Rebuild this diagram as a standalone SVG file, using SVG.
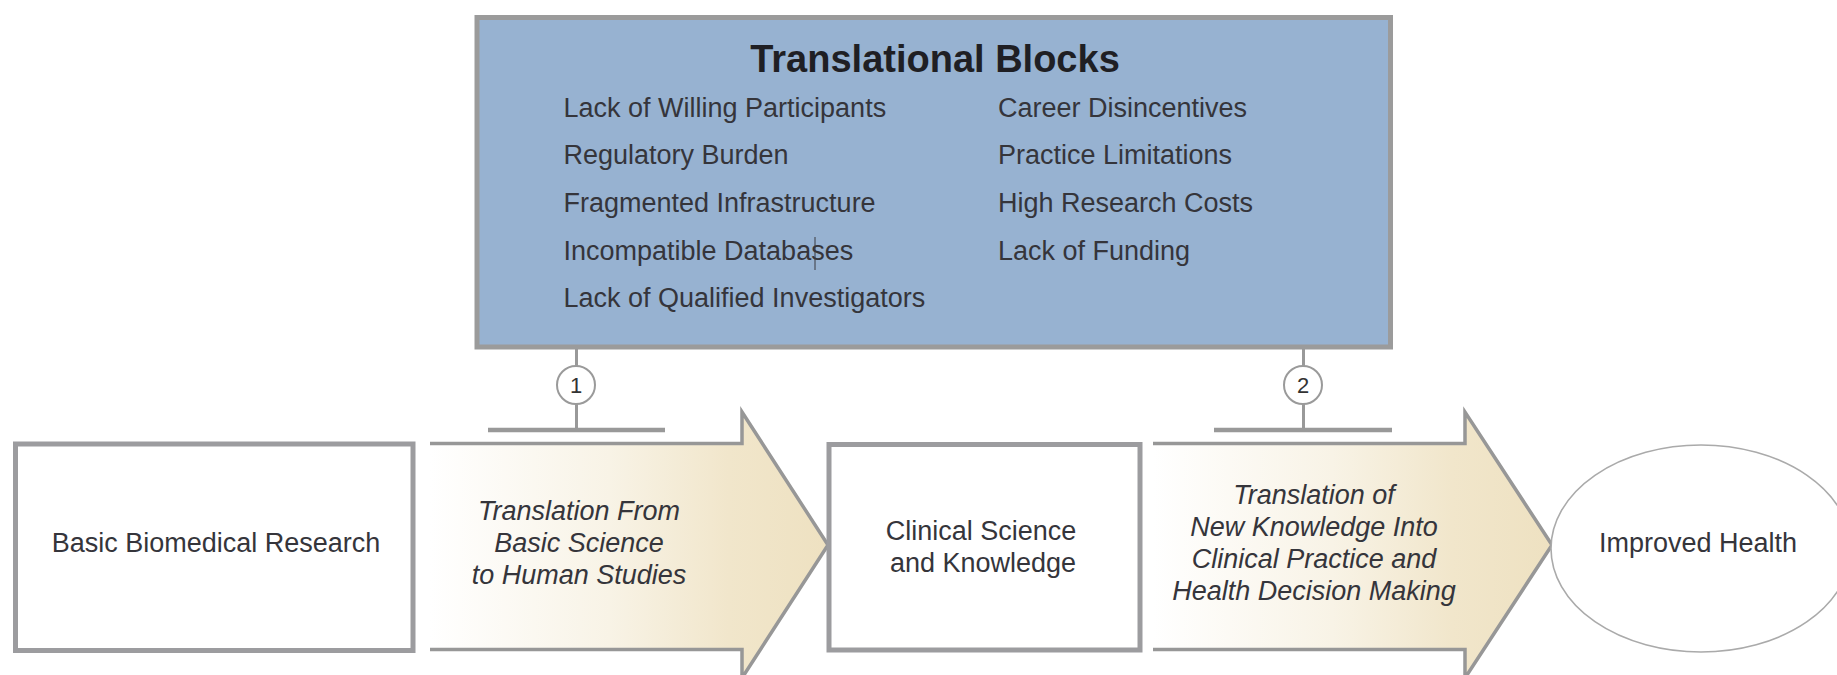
<svg xmlns="http://www.w3.org/2000/svg" width="1837" height="675" viewBox="0 0 1837 675">
<style>
.t{font-family:"Liberation Sans",Arial,sans-serif;font-size:27px;fill:#35353b}
.c{text-anchor:middle}
.i{font-style:italic}
.title{font-family:"Liberation Sans",Arial,sans-serif;font-size:38px;font-weight:bold;fill:#1f1f24;text-anchor:middle}
.box{fill:#ffffff;stroke:#9c9c9f;stroke-width:5}
.arrow{fill:url(#beige);stroke:#979797;stroke-width:3.5;stroke-linejoin:miter}
.conn{stroke:#999999;stroke-width:3;fill:none}
.bar{stroke:#999999;stroke-width:4.5;fill:none}
.badge{fill:#ffffff;stroke:#9a9a9a;stroke-width:2}
.num{font-family:"Liberation Sans",Arial,sans-serif;font-size:22px;fill:#333;text-anchor:middle}
</style>
<defs>
<linearGradient id="beige" x1="0" y1="0" x2="1" y2="0">
<stop offset="0" stop-color="#ffffff"/>
<stop offset="0.45" stop-color="#f8f3e6"/>
<stop offset="0.75" stop-color="#f1e6cb"/>
<stop offset="1" stop-color="#eee1c1"/>
</linearGradient>
</defs>
<rect width="1837" height="675" fill="#ffffff"/>

<g id="translational-blocks">
<rect x="477" y="17.5" width="913.5" height="329.5" fill="#97b2d1" stroke="#9b9b9b" stroke-width="5"/>
<text class="title" x="935" y="72">Translational Blocks</text>
<text class="t" x="563.5" y="117">Lack of Willing Participants</text>
<text class="t" x="563.5" y="164">Regulatory Burden</text>
<text class="t" x="563.5" y="212">Fragmented Infrastructure</text>
<text class="t" x="563.5" y="260">Incompatible Databases</text>
<text class="t" x="563.5" y="307">Lack of Qualified Investigators</text>
<text class="t" x="998" y="117">Career Disincentives</text>
<text class="t" x="998" y="164">Practice Limitations</text>
<text class="t" x="998" y="212">High Research Costs</text>
<text class="t" x="998" y="260">Lack of Funding</text>
<line x1="815" y1="237" x2="815" y2="270" stroke="#3a3a40" stroke-width="1"/>
</g>

<g id="connectors">
<line class="conn" x1="576.5" y1="349" x2="576.5" y2="366"/>
<line class="conn" x1="576.5" y1="404" x2="576.5" y2="430"/>
<line class="bar" x1="488" y1="430" x2="665" y2="430"/>
<circle class="badge" cx="576" cy="385" r="19"/>
<text class="num" x="576" y="393">1</text>
<line class="conn" x1="1303.5" y1="349" x2="1303.5" y2="366"/>
<line class="conn" x1="1303.5" y1="404" x2="1303.5" y2="430"/>
<line class="bar" x1="1214" y1="430" x2="1392" y2="430"/>
<circle class="badge" cx="1303" cy="385" r="19"/>
<text class="num" x="1303" y="393">2</text>
</g>

<g id="basic-research">
<rect class="box" x="15.5" y="444" width="397.5" height="206.5"/>
<text class="t c" x="216" y="552">Basic Biomedical Research</text>
</g>

<g id="translation-1">
<path class="arrow" d="M430,443.5 H742 V412 L828,545 L742,678 V649.5 H430"/>
<text class="t c i" x="579" y="520">Translation From</text>
<text class="t c i" x="579" y="552">Basic Science</text>
<text class="t c i" x="579" y="584">to Human Studies</text>
</g>

<g id="clinical-science">
<rect class="box" x="829" y="444.5" width="311" height="205.5"/>
<text class="t c" x="981" y="540">Clinical Science</text>
<text class="t c" x="983" y="572">and Knowledge</text>
</g>

<g id="translation-2">
<path class="arrow" d="M1153,443.5 H1465 V412 L1552,545 L1465,678 V649.5 H1153"/>
<text class="t c i" x="1314" y="504">Translation of</text>
<text class="t c i" x="1314" y="536">New Knowledge Into</text>
<text class="t c i" x="1314" y="568">Clinical Practice and</text>
<text class="t c i" x="1314" y="600">Health Decision Making</text>
</g>

<g id="improved-health">
<ellipse cx="1701" cy="548.5" rx="150" ry="103.5" fill="#ffffff" stroke="#aaaaaa" stroke-width="1.6"/>
<text class="t c" x="1698" y="552">Improved Health</text>
</g>
</svg>
